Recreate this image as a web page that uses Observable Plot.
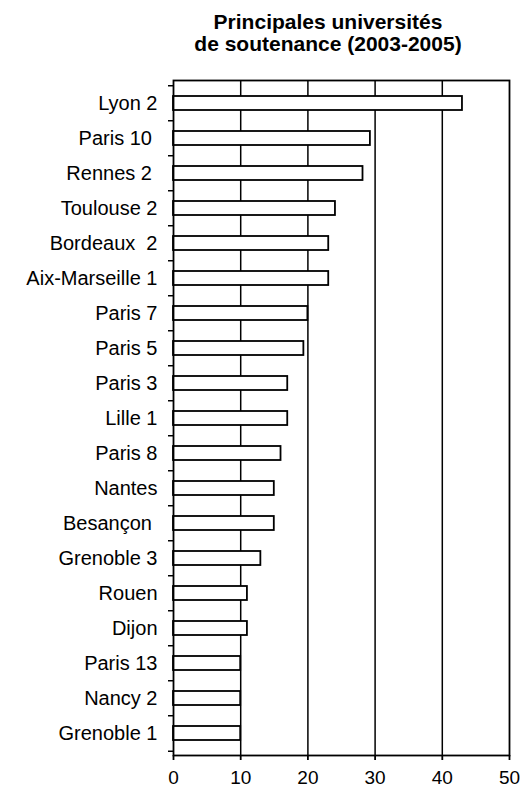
<!DOCTYPE html>
<html><head><meta charset="utf-8">
<script src="https://cdn.jsdelivr.net/npm/d3@7"></script>
<script src="https://cdn.jsdelivr.net/npm/@observablehq/plot@0.6"></script>
<style>
body{margin:0;background:#fff;}
#wrap{position:relative;width:526px;height:789px;}
#title{position:absolute;left:128px;width:400px;top:11px;text-align:center;font:bold 21px "Liberation Sans",Arial,Helvetica,sans-serif;line-height:22px;color:#000;}
#chart{position:absolute;left:0;top:0;}
svg text{white-space:pre;}
</style></head><body>
<div id="wrap"><div id="chart"></div><div id="title">Principales universités<br>de soutenance (2003-2005)</div></div>
<script>
const universities = ["Lyon 2","Paris 10 ","Rennes 2 ","Toulouse 2","Bordeaux  2","Aix-Marseille 1","Paris 7","Paris 5","Paris 3","Lille 1","Paris 8","Nantes","Besançon ","Grenoble 3","Rouen","Dijon","Paris 13","Nancy 2","Grenoble 1"];
const theses = [43,29.3,28.2,24.1,23.1,23.1,20,19.4,17,17,16,15,15,13,11,11,10,10,10];
const xTicks = [0,10,20,30,40,50];
const gridValues = [10,20,30,40];
const data = universities.map((u,i)=>({u, v: theses[i]}));
const W=526,H=789, mt=80, mb=34, ml=173, mr=17;
const step = (H-mt-mb)/universities.length;
const font = '"Liberation Sans", Arial, Helvetica, sans-serif';
const chart = Plot.plot({
  width:W, height:H, marginTop:mt, marginBottom:mb, marginLeft:ml, marginRight:mr,
  style:{fontFamily: font, background:"white", color:"black"},
  x:{domain:[0,50]},
  y:{domain:universities, paddingInner:0.61, paddingOuter:0.26},
  marks:[
    Plot.ruleX(gridValues,{stroke:"black", strokeWidth:1.5}),
    Plot.barX(data,{x:"v", y:"u", fill:"white", stroke:"black", strokeWidth:1.8}),
    Plot.frame({stroke:"black", strokeWidth:1.8}),
    Plot.axisX({ticks:xTicks, tickSize:5, tickPadding:10, fontSize:19, label:null, strokeWidth:1.8}),
    Plot.axisY({tickSize:0, tickPadding:16, fontSize:20, label:null}),
    Plot.axisY({tickSize:5, text:null, dy:-step/2, label:null, strokeWidth:1.5}),
    Plot.axisY({ticks:[universities[universities.length-1]], tickSize:5, text:null, dy:step/2, label:null, strokeWidth:1.5})
  ]
});
document.getElementById("chart").appendChild(chart);
</script>
</body></html>
